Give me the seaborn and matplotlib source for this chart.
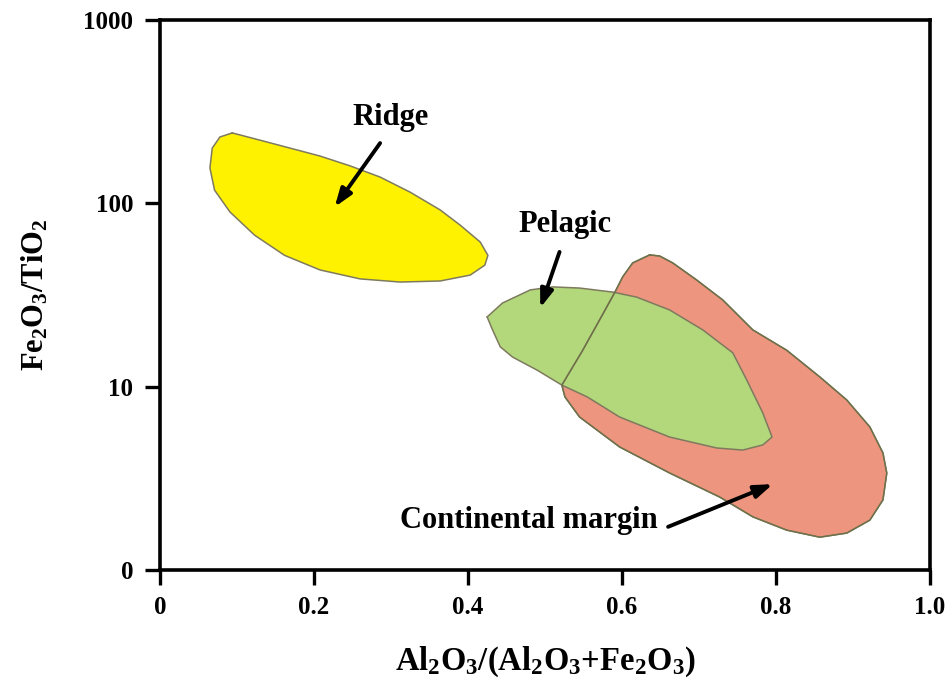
import numpy as np
import pandas as pd
import matplotlib
matplotlib.use("Agg")
import matplotlib.pyplot as plt
import seaborn as sns

# ---- field boundaries: Al2O3/(Al2O3+Fe2O3) vs Fe2O3/TiO2 ----
ridge_x = [0.094, 0.130, 0.169, 0.208, 0.247, 0.286, 0.325, 0.364, 0.390, 0.416,
           0.426, 0.422, 0.403, 0.364, 0.312, 0.260, 0.208, 0.162, 0.123, 0.091,
           0.071, 0.065, 0.068, 0.078]
ridge_y = [242, 221, 200, 181, 160, 139, 115, 92, 76, 61.5,
           52, 46, 40.6, 37.7, 37.2, 38.7, 43.3, 52, 67, 89.7,
           118, 156, 200, 230]

pelagic_x = [0.425, 0.445, 0.481, 0.510, 0.545, 0.588, 0.619, 0.662, 0.705, 0.744,
             0.762, 0.783, 0.795, 0.783, 0.757, 0.723, 0.662, 0.597, 0.555, 0.522,
             0.490, 0.458, 0.442, 0.432]
pelagic_y = [24.0, 28.6, 33.7, 35.0, 34.5, 32.8, 30.8, 26.2, 20.4, 15.3,
             10.9, 7.18, 5.31, 4.81, 4.51, 4.63, 5.31, 6.83, 8.79, 10.2,
             12.3, 14.5, 16.5, 20.4]

margin_x = [0.636, 0.614, 0.601, 0.591, 0.571, 0.548, 0.522, 0.526, 0.545, 0.597,
            0.662, 0.727, 0.770, 0.814, 0.857, 0.892, 0.922, 0.939, 0.944, 0.939,
            0.922, 0.892, 0.857, 0.814, 0.770, 0.731, 0.697, 0.666, 0.649]
margin_y = [52.3, 47.3, 39.7, 32.8, 23.1, 15.5, 10.2, 8.79, 6.83, 4.69,
            3.38, 2.50, 1.95, 1.65, 1.51, 1.59, 1.87, 2.41, 3.38, 4.35,
            6.03, 8.46, 11.3, 15.8, 20.4, 29.7, 38.2, 47.3, 51.6]

x_ticks = [0, 0.2, 0.4, 0.6, 0.8, 1.0]
x_tick_labels = ["0", "0.2", "0.4", "0.6", "0.8", "1.0"]
y_ticks = [1, 10, 100, 1000]
y_tick_labels = ["0", "10", "100", "1000"]

fields = pd.DataFrame({
    "x": ridge_x + pelagic_x + margin_x,
    "y": ridge_y + pelagic_y + margin_y,
    "field": (["Ridge"] * len(ridge_x) + ["Pelagic"] * len(pelagic_x)
              + ["Continental margin"] * len(margin_x)),
})

sns.set_theme(style="ticks")
plt.rcParams["font.family"] = ["Liberation Serif", "DejaVu Serif"]
plt.rcParams["font.weight"] = "bold"
plt.rcParams["text.color"] = "black"
plt.rcParams["axes.labelcolor"] = "black"
plt.rcParams["mathtext.fontset"] = "custom"
plt.rcParams["mathtext.rm"] = "Liberation Serif:bold"
plt.rcParams["mathtext.it"] = "Liberation Serif:bold"
plt.rcParams["mathtext.bf"] = "Liberation Serif:bold"
plt.rcParams["mathtext.default"] = "bf"

fig = plt.figure(figsize=(9.46, 6.88), dpi=100)
ax = fig.add_axes([0.169, 0.1715, 0.814, 0.7995])

colors = {"Ridge": "#FFF200", "Pelagic": "#B3D77B", "Continental margin": "#EE9580"}
edge = "#7E7A5E"


def closed(name):
    d = fields[fields["field"] == name]
    return pd.concat([d, d.iloc[:1]], ignore_index=True)


# filled fields; continental margin first, pelagic over it
for name in ["Continental margin", "Pelagic", "Ridge"]:
    d = closed(name)
    ax.fill(d["x"], d["y"], color=colors[name], lw=0, zorder=1)
    sns.lineplot(data=d, x="x", y="y", sort=False, estimator=None,
                 color=edge, lw=1.1, ax=ax, zorder=2)

# margin outline remains visible through the pelagic field
d = closed("Continental margin")
sns.lineplot(data=d, x="x", y="y", sort=False, estimator=None,
             color="#6E7048", lw=1.0, ax=ax, zorder=3)

ax.set_yscale("log")
ax.set_xlim(0, 1.0)
ax.set_ylim(1, 1000)
ax.set_xticks(x_ticks)
ax.set_xticklabels(x_tick_labels)
ax.set_yticks(y_ticks)
ax.set_yticklabels(y_tick_labels)
ax.yaxis.set_minor_locator(matplotlib.ticker.NullLocator())
ax.tick_params(axis="both", which="major", direction="out", length=11, width=2.4,
               labelsize=18, pad=8, colors="black")
for lab in ax.get_xticklabels() + ax.get_yticklabels():
    lab.set_fontweight("bold")
for s in ax.spines.values():
    s.set_linewidth(2.6)
    s.set_color("black")

ax.set_xlabel(r"Al$_2$O$_3$/(Al$_2$O$_3$+Fe$_2$O$_3$)", fontsize=23.5,
              fontweight="bold", labelpad=18)
ax.set_ylabel(r"Fe$_2$O$_3$/TiO$_2$", fontsize=22, fontweight="bold", labelpad=24)

arrow = dict(arrowstyle="-|>,head_length=0.9,head_width=0.32", color="black", lw=2.8,
             shrinkA=0, shrinkB=0)
ax.annotate("", xy=(0.227, 95.5), xytext=(0.286, 213), arrowprops=arrow, zorder=5)
ax.text(0.299, 292, "Ridge", fontsize=22, fontweight="bold", ha="center", va="center")
ax.annotate("", xy=(0.494, 26.9), xytext=(0.519, 54.3), arrowprops=arrow, zorder=5)
ax.text(0.526, 76.2, "Pelagic", fontsize=22, fontweight="bold", ha="center", va="center")
ax.annotate("", xy=(0.796, 2.94), xytext=(0.660, 1.72), arrowprops=arrow, zorder=5)
ax.text(0.479, 1.87, "Continental margin", fontsize=22, fontweight="bold",
        ha="center", va="center")

fig.savefig("out.png", dpi=100)
